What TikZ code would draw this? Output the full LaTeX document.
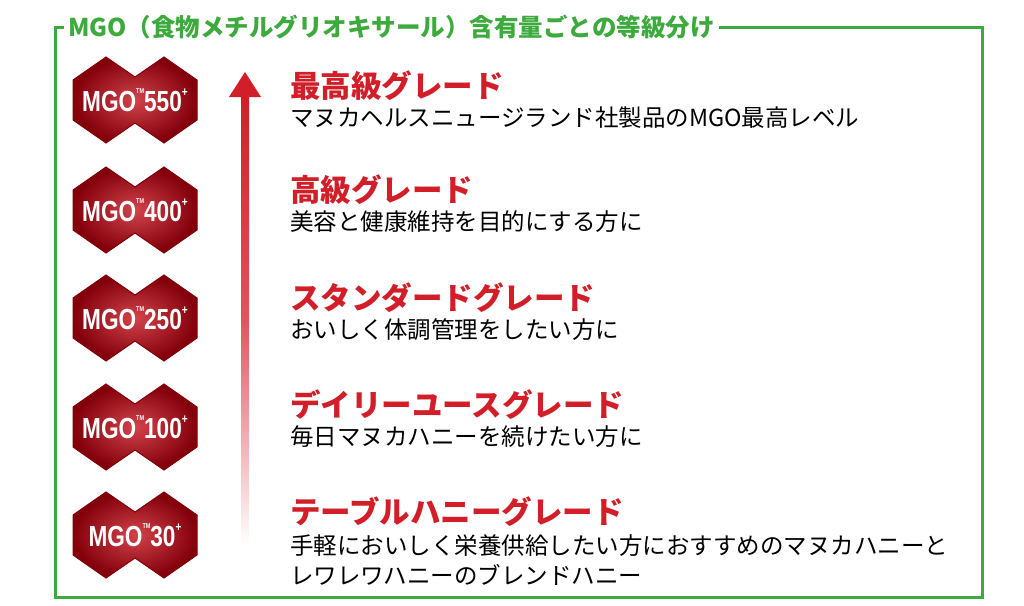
\documentclass[tikz,border=0pt]{standalone}
\usepackage{fontspec}
\setmainfont{Liberation Sans}
\newfontfamily\jp{Noto Sans CJK JP}
\usetikzlibrary{shadings}
\definecolor{frameg}{RGB}{60,170,60}
\definecolor{headred}{RGB}{210,30,40}
\definecolor{badgered}{RGB}{200,20,30}
\definecolor{badgedark}{RGB}{130,0,10}
\tikzset{
  head/.style={anchor=west,text=headred,font=\jp\bfseries\fontsize{30.5}{32}\selectfont,inner sep=0},
  sub/.style={anchor=west,text=black,font=\jp\fontsize{23.5}{26}\selectfont,inner sep=0},
  badgetxt/.style={text=white,font=\bfseries\fontsize{29}{30}\selectfont,inner sep=0},
}
\newcommand{\badge}[3]{%
  \begin{scope}[shift={(#1,#2)}]
    \path[inner color=badgered!80!white,outer color=badgedark,draw=badgedark,line width=1pt]
      (-91,-20)--(-58,-43)--(-29,-23)--(0,-43)--(33,-20)--(33,20)--(0,43)--(-29,23)--(-58,43)--(-91,20)--cycle;
    \node[badgetxt] (b#3) at (-29,0) {\scalebox{0.78}[1]{MGO\raisebox{1.2ex}{\fontsize{7}{7}\selectfont TM}#3\raisebox{1.0ex}{\fontsize{13}{13}\selectfont+}}};
  \end{scope}}
\begin{document}
\begin{tikzpicture}[x=1pt,y=-1pt]
\useasboundingbox[fill=white] (0,0) rectangle (1024,605);
\draw[frameg,line width=3pt] (55,27) rectangle (982,597);
\node[fill=white,anchor=west,inner xsep=4pt,text=frameg,font=\jp\bfseries\fontsize{24.5}{26}\selectfont] (title) at (64,27) {MGO（食物メチルグリオキサール）含有量ごとの等級分け};
\badge{164}{100}{550}
\badge{164}{210}{400}
\badge{164}{318}{250}
\badge{164}{427}{100}
\badge{164}{535}{30}
% arrow
\shade[top color=headred, bottom color=white, middle color=headred!75!white] (241,96) rectangle (249,545);
\fill[headred] (229,97) -- (245,72) -- (261,97) -- cycle;
\node[head] (h1) at (290,86) {最高級グレード};
\node[sub] (s1) at (290,118) {マヌカヘルスニュージランド社製品のMGO最高レベル};
\node[head] (h2) at (290,190) {高級グレード};
\node[sub] (s2) at (290,222) {美容と健康維持を目的にする方に};
\node[head] (h3) at (290,298) {スタンダードグレード};
\node[sub] (s3) at (290,330) {おいしく体調管理をしたい方に};
\node[head] (h4) at (290,405) {デイリーユースグレード};
\node[sub] (s4) at (290,437) {毎日マヌカハニーを続けたい方に};
\node[head] (h5) at (290,512) {テーブルハニーグレード};
\node[sub] (s5) at (290,546) {手軽においしく栄養供給したい方におすすめのマヌカハニーと};
\node[sub] (s6) at (290,575) {レワレワハニーのブレンドハニー};
\end{tikzpicture}
\end{document}
